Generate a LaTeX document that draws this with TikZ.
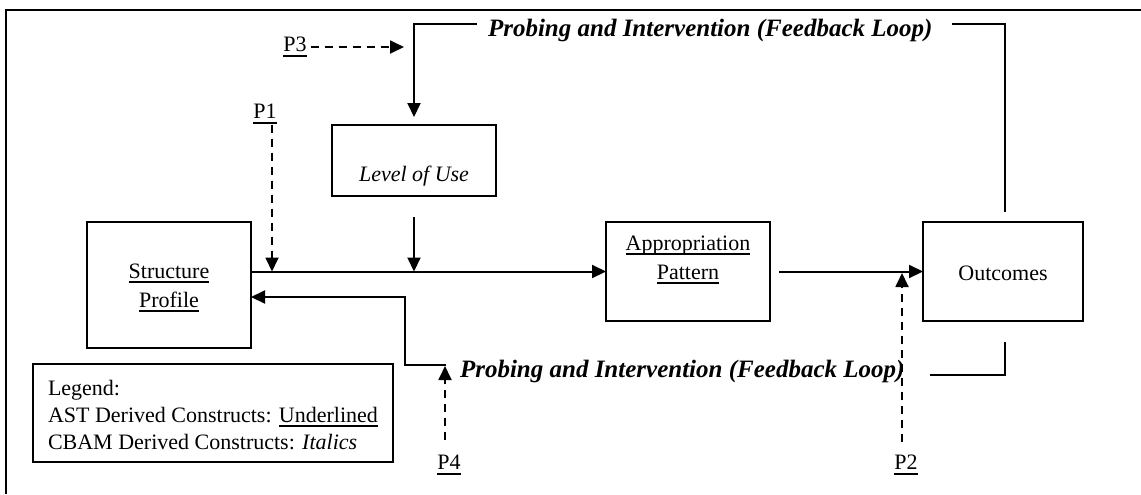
\documentclass[tikz,border=0pt]{standalone}
\usepackage{fontspec}
\setmainfont{Liberation Serif}
\newcommand{\ulx}[1]{\setbox0\hbox{#1}\leavevmode\rlap{\vrule height -1.4pt depth 2.3pt width \wd0}\box0}
\usetikzlibrary{arrows.meta}
\begin{document}
\begin{tikzpicture}[x=0.5pt,y=-0.5pt, line width=1pt,
  >={Triangle[length=7pt,width=6.5pt]},
  box/.style={draw, line width=1pt, inner sep=0pt, outer sep=0pt},
  txt/.style={inner sep=0pt, font=\fontsize{11}{14.5}\selectfont},
  lgtxt/.style={inner sep=0pt, font=\fontsize{11}{13.5}\selectfont},
  lbl/.style={inner sep=0pt, font=\fontsize{12.5}{15}\selectfont\bfseries\itshape},
  dsh/.style={dash pattern=on 4pt off 3pt, line width=0.9pt}]
\useasboundingbox (0,0) rectangle (1141,494);
% outer frame (top and left edges)
\draw[line width=1.2pt] (1141,10) -- (6,10) -- (6,494);

% boxes
\node[box, minimum width=82pt, minimum height=63pt] (sp) at (169,285) {};
\node[txt, align=center] (spt) at (169,288) {\ulx{Structure}\\\ulx{Profile}};
\node[box, minimum width=82pt, minimum height=35.5pt] (lou) at (414,160.5) {};
\node[txt] (lout) at (414,176) {\textit{Level of Use}};
\node[box, minimum width=82pt, minimum height=49.5pt] (ap) at (688,271.5) {};
\node[txt, align=center] (apt) at (688,260) {\ulx{Appropriation}\\\ulx{Pattern}};
\node[box, minimum width=80pt, minimum height=49.5pt] (oc) at (1003,271.5) {};
\node[txt] (oct) at (1003,273) {Outcomes};
\node[box, minimum width=180pt, minimum height=49pt] (lg) at (213,413) {};
\node[lgtxt, align=left, anchor=west] (lgt) at (47,415) {Legend:\\AST Derived Constructs: \ulx{Underlined}\\CBAM Derived Constructs: \textit{Italics}};

% P labels
\node[txt] (p3) at (295,47) {\ulx{P3}};
\node[txt] (p1) at (265,114) {\ulx{P1}};
\node[txt] (p4) at (449,465) {\ulx{P4}};
\node[txt] (p2) at (906,465) {\ulx{P2}};

% feedback labels
\node[lbl, anchor=west] (fbt) at (487,30) {Probing and Intervention (Feedback Loop)};
\node[lbl, anchor=west] (fbb) at (459,371) {Probing and Intervention (Feedback Loop)};

% junction coordinates
\coordinate (c3) at (404,47);
\coordinate (j1) at (272,271.5);
\coordinate (j2) at (414,271.5);
\coordinate (j3) at (902,273);
\coordinate (j4) at (445,366);
\coordinate (b1) at (405,297);

% top feedback loop
\draw[->, shorten >=4pt] ([xshift=-5pt,yshift=3pt]fbt.west) -| (lou.north);
\draw ([xshift=9.5pt,yshift=3pt]fbt.east) -| ([xshift=1pt,yshift=5pt]oc.north);
\draw[dsh,->, shorten <=1.5pt] (p3.east) -- (c3);

% main flow
\draw[->] (sp.east |- ap.west) -- (ap.west);
\draw[dsh,->] (p1.south -| j1) -- (j1);
\draw[->, shorten <=10.5pt] (lou.south) -- (j2);
\draw[->, shorten <=4.5pt] (ap.east) -- (oc.west);
\draw[dsh,->, shorten <=6pt] (p2.north -| j3) -- (j3);

% bottom feedback loop
\draw ([xshift=1pt,yshift=-10.5pt]oc.south) |- ([xshift=12.5pt,yshift=-2pt]fbb.east);
\draw[->] ([xshift=-6.5pt,yshift=3pt]fbb.west) -| (b1) -- (b1 -| sp.east);
\draw[dsh,->, shorten <=7pt] (p4.north -| j4) -- (j4);
\end{tikzpicture}
\end{document}
